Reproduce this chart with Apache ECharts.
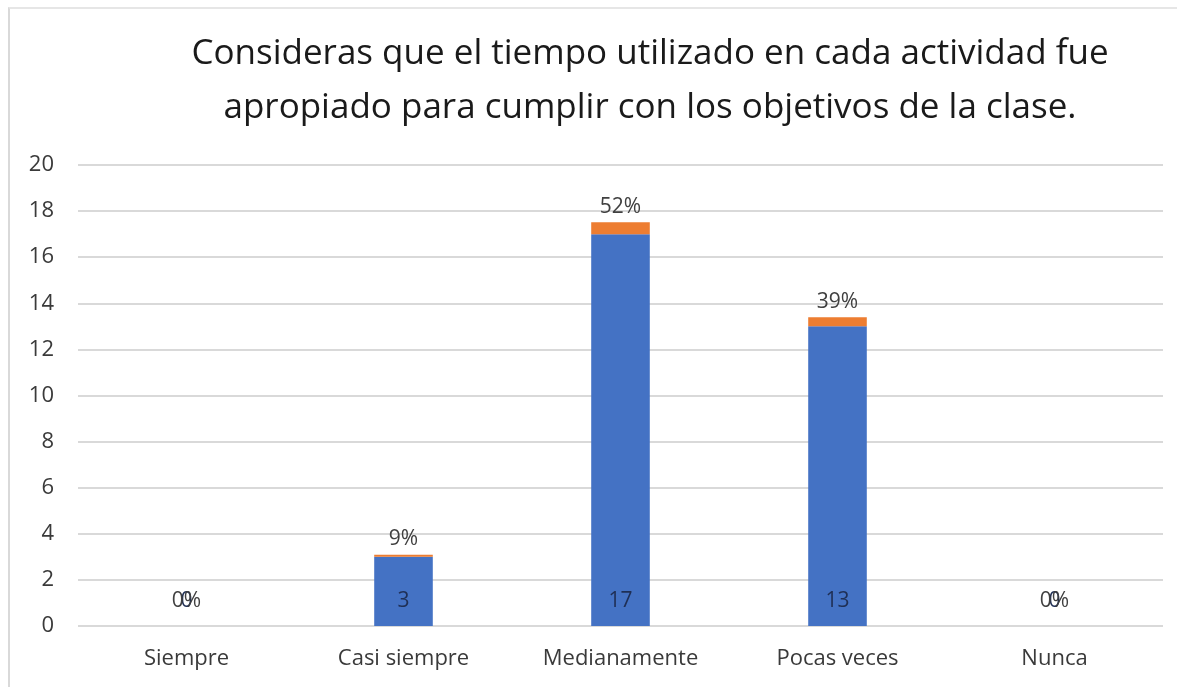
<!DOCTYPE html>
<html>
<head>
<meta charset="utf-8">
<script src="https://cdn.jsdelivr.net/npm/echarts@6/dist/echarts.min.js"></script>
<style>
	html, body { margin: 0; padding: 0; background: #fff; }
	#frame {
		position: absolute; left: 8px; top: 7px; width: 1175px; height: 690px;
		border-left: 2px solid #d9d9d9; border-top: 2px solid #e6e6e6;
	}
	#chart { position: absolute; left: 0; top: 0; width: 1177px; height: 687px; }
</style>
</head>
<body>
<div id="frame"></div>
<div id="chart"></div>
<script>
	const titleText = "Consideras que el tiempo utilizado en cada actividad fue\napropiado para cumplir con los objetivos de la clase.";
	const categories = ["Siempre", "Casi siempre", "Medianamente", "Pocas veces", "Nunca"];
	const counts = [0, 3, 17, 13, 0];
	const shares = [0, 0.09, 0.52, 0.39, 0];
	const yTicks = [0, 2, 4, 6, 8, 10, 12, 14, 16, 18, 20];

	const fontFam = "'Open Sans', 'Noto Sans', sans-serif";

	var chartDom = document.getElementById("chart");
	var myChart = echarts.init(chartDom);

	// zero-share bars get their label drawn low, like the original
	let shareData = shares.map((v) => {
		if (v === 0) {
			return { value: v, label: { position: "insideBottom", distance: 14 } };
		}
		return v;
	});

	let option = {
		animation: false,
		title: {
			text: titleText,
			left: 645,
			top: 22,
			textAlign: "center",
			textStyle: {
				fontFamily: fontFam,
				fontWeight: "normal",
				fontSize: 35,
				lineHeight: 54,
				color: "#1a1a1a",
			},
		},
		grid: { left: 78, right: 14, top: 165, bottom: 61 },
		xAxis: {
			type: "category",
			data: categories,
			axisLine: { show: false },
			axisTick: { show: false },
			axisLabel: {
				fontFamily: fontFam,
				fontSize: 22,
				color: "#3a3a3a",
				margin: 22,
			},
		},
		yAxis: {
			type: "value",
			min: yTicks[0],
			max: yTicks[yTicks.length - 1],
			interval: 2,
			axisLine: { show: false },
			axisTick: { show: false },
			splitLine: { lineStyle: { color: "#d9d9d9", width: 2 } },
			axisLabel: {
				fontFamily: fontFam,
				fontSize: 22,
				color: "#3a3a3a",
				margin: 24,
			},
		},
		series: [
			{
				type: "bar",
				stack: "total",
				data: counts,
				barWidth: "27%",
				itemStyle: { color: "#4472C4" },
				label: {
					show: true,
					position: "insideBottom",
					distance: 14,
					fontFamily: fontFam,
					fontSize: 21,
					color: "#1f2f55",
				},
			},
			{
				type: "bar",
				stack: "total",
				data: shareData,
				itemStyle: { color: "#ED7D31" },
				label: {
					show: true,
					position: "top",
					distance: 5,
					fontFamily: fontFam,
					fontSize: 21,
					color: "#404040",
					formatter: (p) => Math.round(p.value * 100) + "%",
				},
			},
		],
	};
	myChart.setOption(option);
</script>
</body>
</html>
